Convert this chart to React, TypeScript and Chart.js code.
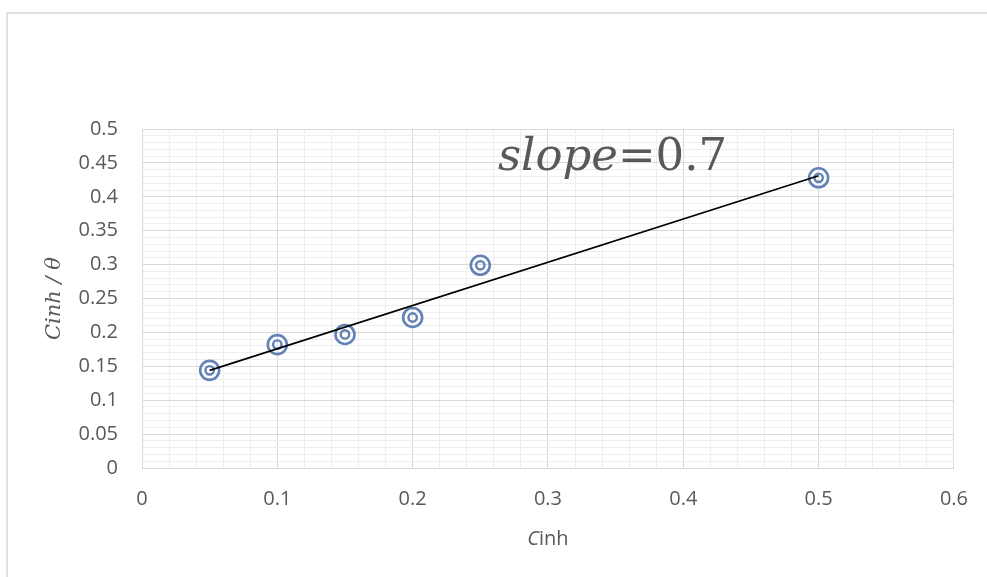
import React, { useEffect, useRef } from 'react';
import { Chart, registerables } from 'chart.js';

Chart.register(...registerables);

// ---- data ----
const cinh = [0.05, 0.1, 0.15, 0.2, 0.25, 0.5];
const cinhOverTheta = [0.144, 0.182, 0.197, 0.222, 0.299, 0.428];
const trendX = [0.05, 0.5];
const trendY = [0.144, 0.431];
const xTickValues = [0, 0.1, 0.2, 0.3, 0.4, 0.5, 0.6];
const xTickLabels = ['0', '0.1', '0.2', '0.3', '0.4', '0.5', '0.6'];
const yTickValues = [0, 0.05, 0.1, 0.15, 0.2, 0.25, 0.3, 0.35, 0.4, 0.45, 0.5];
const yTickLabels = ['0', '0.05', '0.1', '0.15', '0.2', '0.25', '0.3', '0.35', '0.4', '0.45', '0.5'];
const slopeItalic = 'slope';
const slopeRest = '=0.7';
const xTitleItalic = 'C';
const xTitleRest = 'inh';
const yTitle = 'Cinh / θ';

const W = 987;
const H = 577;
const SANS = '"Open Sans", Lato, sans-serif';
const SERIF = '"DejaVu Serif", "Liberation Serif", serif';
const MARKER = '#6282b6';

function labelFor(v: number, vals: number[], labels: string[]): string {
  for (let i = 0; i < vals.length; i++) {
    if (Math.abs(v - vals[i]) < 1e-6) return labels[i];
  }
  return '';
}

const overlay = {
  id: 'overlay',
  beforeDraw(chart: any) {
    const c = chart.ctx;
    c.save();
    c.strokeStyle = '#d9d9d9';
    c.lineWidth = 1.5;
    c.beginPath();
    c.moveTo(7, H);
    c.lineTo(7, 13);
    c.lineTo(W, 13);
    c.stroke();
    c.restore();
  },
  afterDraw(chart: any) {
    const { ctx, chartArea, scales } = chart;
    ctx.save();
    // slope annotation
    const ax = scales.x.getPixelForValue(0.263);
    const ay = scales.y.getPixelForValue(0.44);
    ctx.fillStyle = '#595959';
    ctx.textBaseline = 'alphabetic';
    ctx.textAlign = 'left';
    ctx.font = `italic 45px ${SERIF}`;
    ctx.fillText(slopeItalic, ax, ay);
    const w1 = ctx.measureText(slopeItalic).width;
    ctx.font = `45px ${SERIF}`;
    ctx.fillText(slopeRest, ax + w1, ay);

    // x title
    const cx = (chartArea.left + chartArea.right) / 2;
    const ty = chartArea.bottom + 71;
    ctx.textBaseline = 'middle';
    ctx.font = `italic 20px ${SANS}`;
    const wc = ctx.measureText(xTitleItalic).width;
    ctx.font = `20px ${SANS}`;
    const wr = ctx.measureText(xTitleRest).width;
    const start = cx - (wc + wr) / 2;
    ctx.font = `italic 20px ${SANS}`;
    ctx.fillText(xTitleItalic, start, ty);
    ctx.font = `20px ${SANS}`;
    ctx.fillText(xTitleRest, start + wc, ty);

    // y title
    const cy = (chartArea.top + chartArea.bottom) / 2;
    ctx.translate(55, cy);
    ctx.rotate(-Math.PI / 2);
    ctx.textAlign = 'center';
    ctx.textBaseline = 'middle';
    ctx.font = `italic 21px ${SERIF}`;
    ctx.fillText(yTitle, 0, 0);
    ctx.restore();
  },
};

export default function App() {
  const ref = useRef<HTMLCanvasElement | null>(null);

  useEffect(() => {
    if (!ref.current) return;
    const points = cinh.map((x, i) => ({ x, y: cinhOverTheta[i] }));
    const trend = trendX.map((x, i) => ({ x, y: trendY[i] }));
    const chart = new Chart(ref.current, {
      type: 'scatter',
      data: {
        datasets: [
          {
            label: 'trend',
            data: trend,
            showLine: true,
            borderColor: '#000000',
            borderWidth: 1.6,
            pointRadius: 0,
            order: 0,
          } as any,
          {
            label: 'outer',
            data: points,
            pointStyle: 'circle',
            pointRadius: 9.5,
            pointBorderWidth: 2.6,
            pointBorderColor: MARKER,
            pointBackgroundColor: 'rgba(0,0,0,0)',
            order: 1,
          } as any,
          {
            label: 'inner',
            data: points,
            pointStyle: 'circle',
            pointRadius: 4.2,
            pointBorderWidth: 2.4,
            pointBorderColor: MARKER,
            pointBackgroundColor: 'rgba(0,0,0,0)',
            order: 2,
          } as any,
        ],
      },
      options: {
        responsive: false,
        animation: false,
        events: [],
        layout: { padding: { left: 0, top: 129, right: 32, bottom: 0 } },
        plugins: {
          legend: { display: false },
          tooltip: { enabled: false },
        },
        scales: {
          x: {
            type: 'linear',
            min: 0,
            max: 0.6,
            afterFit: (s: any) => {
              s.height = 109;
            },
            border: { display: true, color: '#d9d9d9', width: 1 },
            grid: {
              drawTicks: false,
              color: (ctx: any) =>
                labelFor(ctx.tick.value, xTickValues, xTickLabels) !== '' ? '#d9d9d9' : '#eeeeee',
              lineWidth: 1,
            },
            ticks: {
              stepSize: 0.02,
              maxTicksLimit: 1000,
              autoSkip: false,
              maxRotation: 0,
              padding: 19,
              color: '#595959',
              font: { family: SANS, size: 20 },
              callback: (v: any) => labelFor(Number(v), xTickValues, xTickLabels),
            },
          },
          y: {
            type: 'linear',
            min: 0,
            max: 0.5,
            afterFit: (s: any) => {
              s.width = 142;
            },
            border: { display: true, color: '#d9d9d9', width: 1 },
            grid: {
              drawTicks: false,
              color: (ctx: any) =>
                labelFor(ctx.tick.value, yTickValues, yTickLabels) !== '' ? '#d9d9d9' : '#eeeeee',
              lineWidth: 1,
            },
            ticks: {
              stepSize: 0.01,
              maxTicksLimit: 1000,
              autoSkip: false,
              padding: 24,
              color: '#595959',
              font: { family: SANS, size: 20 },
              callback: (v: any) => labelFor(Number(v), yTickValues, yTickLabels),
            },
          },
        },
      } as any,
      plugins: [overlay],
    });
    return () => chart.destroy();
  }, []);

  return (
    <div style={{ position: 'absolute', left: 0, top: 0, width: W, height: H, background: '#ffffff' }}>
      <canvas ref={ref} width={W} height={H} style={{ display: 'block', width: W, height: H }} />
    </div>
  );
}
